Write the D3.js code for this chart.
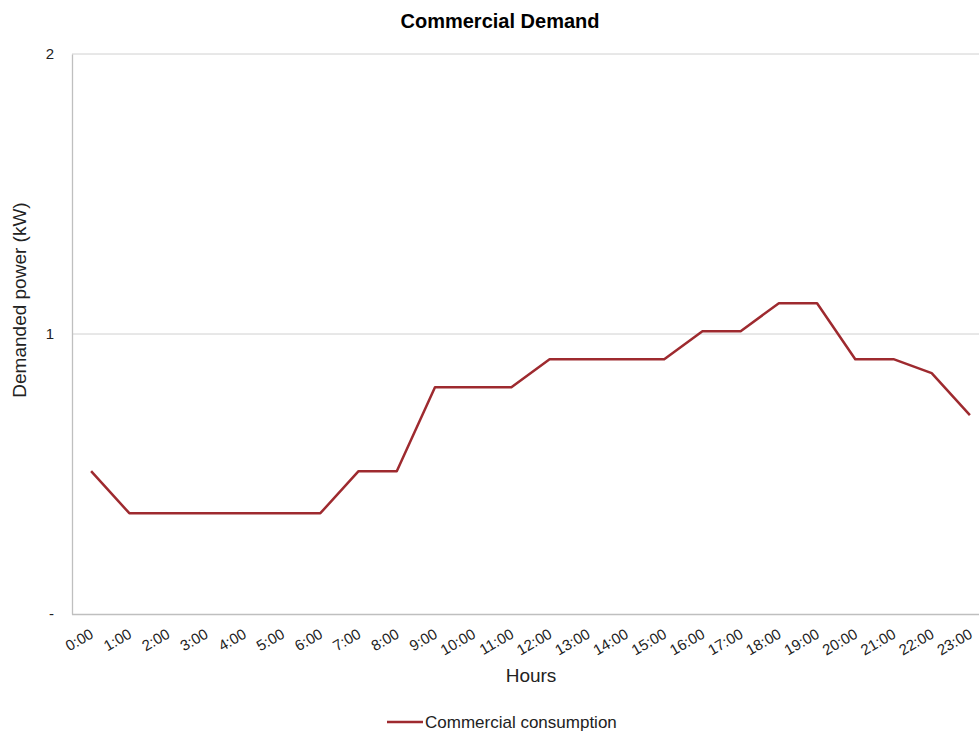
<!DOCTYPE html>
<html>
<head>
<meta charset="utf-8">
<script src="https://cdn.jsdelivr.net/npm/d3@7"></script>
<style>
  html, body { margin: 0; padding: 0; background: #fff; }
  svg { display: block; font-family: "Liberation Sans", Arial, sans-serif; }
</style>
</head>
<body>
<svg id="chart" width="979" height="733"></svg>
<script>
// Hourly commercial demand profile (kW)
const hours = ["0:00","1:00","2:00","3:00","4:00","5:00","6:00","7:00","8:00","9:00","10:00","11:00",
               "12:00","13:00","14:00","15:00","16:00","17:00","18:00","19:00","20:00","21:00","22:00","23:00"];
const demand = [0.51, 0.36, 0.36, 0.36, 0.36, 0.36, 0.36, 0.51, 0.51, 0.81, 0.81, 0.81,
                0.91, 0.91, 0.91, 0.91, 1.01, 1.01, 1.11, 1.11, 0.91, 0.91, 0.86, 0.71];
const yTicks = [0, 1, 2];
const yTickLabels = ["-", "1", "2"];

const svg = d3.select("#chart");
const margin = { left: 72, top: 54, bottom: 614 };
const plotRight = 989;

const x = d3.scalePoint().domain(hours).range([margin.left, plotRight]).padding(0.5);
const y = d3.scaleLinear().domain([0, 2]).range([margin.bottom, margin.top]);

// horizontal gridlines
svg.append("g").selectAll("line")
  .data(yTicks.filter(d => d > 0))
  .join("line")
  .attr("x1", margin.left).attr("x2", plotRight)
  .attr("y1", d => y(d)).attr("y2", d => y(d))
  .attr("stroke", "#d0d0d0").attr("stroke-width", 1);

// y axis
const yAxis = svg.append("g")
  .attr("transform", `translate(${margin.left},0)`)
  .call(d3.axisLeft(y).tickValues(yTicks).tickSize(0).tickPadding(18)
    .tickFormat((d, i) => yTickLabels[i]));
yAxis.select(".domain").attr("stroke", "#bfbfbf").attr("stroke-width", 1.3);
yAxis.selectAll("text").attr("font-size", 15).attr("fill", "#222")
  .attr("font-family", "'Liberation Sans', Arial, sans-serif");

// x axis
const xAxis = svg.append("g")
  .attr("transform", `translate(0,${margin.bottom})`)
  .call(d3.axisBottom(x).tickSize(0).tickPadding(0));
xAxis.select(".domain").attr("stroke", "#bfbfbf").attr("stroke-width", 1.3)
  .attr("d", `M${margin.left},0.5H${plotRight}`);
xAxis.selectAll("text")
  .attr("font-size", 15).attr("fill", "#222")
  .attr("font-family", "'Liberation Sans', Arial, sans-serif")
  .attr("text-anchor", "end")
  .attr("dy", null).attr("y", 0)
  .attr("transform", "translate(3,23) rotate(-30)");

// demand line
const line = d3.line()
  .x((d, i) => x(hours[i]))
  .y(d => y(d));
svg.append("path")
  .datum(demand)
  .attr("fill", "none")
  .attr("stroke", "#9e2a2f")
  .attr("stroke-width", 2.5)
  .attr("stroke-linejoin", "round")
  .attr("d", line);

// titles
svg.append("text")
  .attr("x", 500).attr("y", 28)
  .attr("text-anchor", "middle")
  .attr("font-size", 20).attr("font-weight", "bold").attr("fill", "#000")
  .text("Commercial Demand");

svg.append("text")
  .attr("x", 531).attr("y", 682)
  .attr("text-anchor", "middle")
  .attr("font-size", 19).attr("fill", "#222")
  .text("Hours");

svg.append("text")
  .attr("transform", "translate(26,300) rotate(-90)")
  .attr("text-anchor", "middle")
  .attr("font-size", 19).attr("fill", "#222")
  .text("Demanded power (kW)");

// legend
const legend = svg.append("g");
legend.append("line")
  .attr("x1", 387).attr("x2", 423)
  .attr("y1", 722).attr("y2", 722)
  .attr("stroke", "#9e2a2f").attr("stroke-width", 2.5);
legend.append("text")
  .attr("x", 425).attr("y", 728)
  .attr("font-size", 17).attr("fill", "#222")
  .text("Commercial consumption");
</script>
</body>
</html>
